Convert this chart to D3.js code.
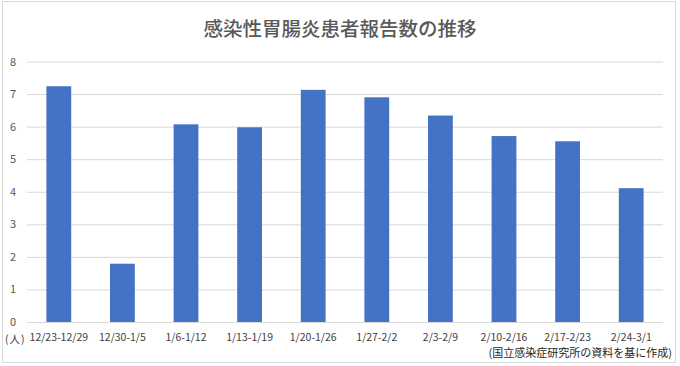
<!DOCTYPE html>
<html>
<head>
<meta charset="utf-8">
<script src="https://cdn.jsdelivr.net/npm/d3@7"></script>
<style>
  body { margin: 0; background: #fff; }
  svg { font-family: "Noto Sans CJK JP", "Noto Sans", sans-serif; }
</style>
</head>
<body>
<div id="chart"></div>
<script>
const title = "感染性胃腸炎患者報告数の推移";
const weeks = ["12/23-12/29", "12/30-1/5", "1/6-1/12", "1/13-1/19", "1/20-1/26",
               "1/27-2/2", "2/3-2/9", "2/10-2/16", "2/17-2/23", "2/24-3/1"];
const patients = [7.24, 1.79, 6.07, 5.98, 7.13, 6.9, 6.34, 5.71, 5.55, 4.11];
const yTicks = [0, 1, 2, 3, 4, 5, 6, 7, 8];
const unitLabel = "(人)";
const sourceNote = "(国立感染症研究所の資料を基に作成)";

const W = 680, H = 366;
const margin = {top: 61.5, right: 17, bottom: 44, left: 27};
const width = W - margin.left - margin.right;
const height = H - margin.top - margin.bottom;

const svg = d3.select("#chart").append("svg")
    .attr("width", W)
    .attr("height", H);

// outer frame
svg.append("rect")
    .attr("x", 2.5).attr("y", 1.5)
    .attr("width", 673).attr("height", 361)
    .attr("fill", "#fff")
    .attr("stroke", "#d9d9d9");

svg.append("text")
    .attr("x", W / 2).attr("y", 36)
    .attr("text-anchor", "middle")
    .attr("font-size", 19.5)
    .attr("font-weight", 500)
    .attr("fill", "#595959")
    .text(title);

const plot = svg.append("g").attr("transform", `translate(${margin.left},${margin.top})`);

const x = d3.scaleBand()
    .domain(weeks)
    .range([0, width])
    .paddingInner(0.61)
    .paddingOuter(0.305);

const y = d3.scaleLinear()
    .domain([0, 8])
    .range([height, 0]);

// gridlines + y labels
const yAxis = plot.append("g")
    .call(d3.axisLeft(y).tickValues(yTicks).tickSize(-width).tickFormat(d3.format("d")));
yAxis.select(".domain").remove();
yAxis.selectAll(".tick line").attr("stroke", "#d9d9d9").attr("stroke-width", 1);
yAxis.selectAll(".tick text")
    .attr("x", -11)
    .attr("font-size", 11)
    .attr("fill", "#595959")
    .attr("font-family", "'Noto Sans CJK JP', sans-serif");

plot.selectAll(".bar")
    .data(patients)
    .join("rect")
    .attr("class", "bar")
    .attr("x", (d, i) => x(weeks[i]))
    .attr("y", d => y(d))
    .attr("width", x.bandwidth())
    .attr("height", d => height - y(d))
    .attr("fill", "#4472c4");

// x labels
const xAxis = plot.append("g")
    .attr("transform", `translate(0,${height})`)
    .call(d3.axisBottom(x).tickSize(0).tickPadding(12));
xAxis.select(".domain").remove();
xAxis.selectAll(".tick text")
    .attr("font-size", 10.5)
    .attr("fill", "#404040")
    .attr("font-family", "'Noto Sans CJK JP', sans-serif");

svg.append("text")
    .attr("x", 5).attr("y", margin.top + height + 21)
    .attr("font-size", 10.5)
    .attr("letter-spacing", 1)
    .attr("fill", "#404040")
    .text(unitLabel);

svg.append("text")
    .attr("x", 672).attr("y", 357)
    .attr("text-anchor", "end")
    .attr("font-size", 11)
    .attr("fill", "#262626")
    .text(sourceNote);
</script>
</body>
</html>
